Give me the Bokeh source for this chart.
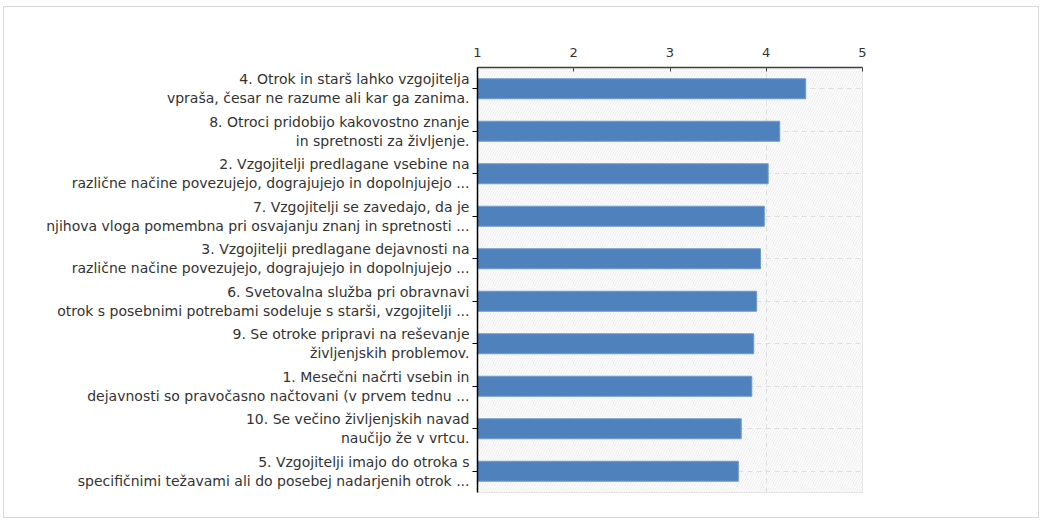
from bokeh.plotting import figure
from bokeh.models import Range1d, FactorRange, FixedTicker, BoxAnnotation
from bokeh.embed import file_html
from bokeh.resources import INLINE

labels = [
    "4. Otrok in starš lahko vzgojitelja\nvpraša, česar ne razume ali kar ga zanima.",
    "8. Otroci pridobijo kakovostno znanje\nin spretnosti za življenje.",
    "2. Vzgojitelji predlagane vsebine na\nrazlične načine povezujejo, dograjujejo in dopolnjujejo ...",
    "7. Vzgojitelji se zavedajo, da je\nnjihova vloga pomembna pri osvajanju znanj in spretnosti ...",
    "3. Vzgojitelji predlagane dejavnosti na\nrazlične načine povezujejo, dograjujejo in dopolnjujejo ...",
    "6. Svetovalna služba pri obravnavi\notrok s posebnimi potrebami sodeluje s starši, vzgojitelji ...",
    "9. Se otroke pripravi na reševanje\nživljenjskih problemov.",
    "1. Mesečni načrti vsebin in\ndejavnosti so pravočasno načtovani (v prvem tednu ...",
    "10. Se večino življenjskih navad\nnaučijo že v vrtcu.",
    "5. Vzgojitelji imajo do otroka s\nspecifičnimi težavami ali do posebej nadarjenih otrok ...",
]
values = [4.41, 4.14, 4.02, 3.98, 3.94, 3.90, 3.87, 3.85, 3.74, 3.71]
x_ticks = [1, 2, 3, 4, 5]

FONT = "DejaVu Sans"

p = figure(
    width=1036, height=512,
    x_range=Range1d(1, 5),
    y_range=FactorRange(factors=list(reversed(labels)), range_padding=0),
    output_backend="svg", toolbar_location=None,
    x_axis_location="above",
    min_border_left=473, min_border_right=178, min_border_top=60, min_border_bottom=27,
)
p.styles = {"border": "1px solid #d8d8d8", "margin": "6px 0 0 3px"}

# hatched plot background
bg = BoxAnnotation(fill_color="#fdfdfd", fill_alpha=1.0, line_color=None,
                   hatch_pattern="right_diagonal_line", hatch_color="#ededed",
                   hatch_scale=5, hatch_weight=1, level="image")
p.add_layout(bg)

p.hbar(y=labels, left=1, right=values, height=0.47,
       fill_color="#4f81bd", line_color="#6f9ad0", line_width=1)

p.outline_line_color = "#dcdcdc"

xa = p.xaxis[0]
xa.ticker = FixedTicker(ticks=x_ticks)
xa.axis_line_color = "#404040"
xa.axis_line_width = 1.5
xa.major_tick_in = 4
xa.major_tick_out = 0
xa.major_tick_line_color = "#404040"
xa.minor_tick_line_color = None
xa.major_label_text_font = FONT
xa.major_label_text_font_size = "13px"
xa.major_label_text_color = "#333333"
xa.major_label_standoff = 11

ya = p.yaxis[0]
ya.axis_line_color = "#000000"
ya.axis_line_width = 1.5
ya.major_tick_out = 5
ya.major_tick_in = 0
ya.major_tick_line_color = "#000000"
ya.major_label_text_font = FONT
ya.major_label_text_font_size = "14px"
ya.major_label_text_color = "#333333"
ya.major_label_text_line_height = 1.2
ya.major_label_standoff = 3

p.xgrid.ticker = FixedTicker(ticks=[4])
p.xgrid.grid_line_color = "#dedede"
p.xgrid.grid_line_dash = "5 4"
p.ygrid.grid_line_color = "#dedede"
p.ygrid.grid_line_dash = "5 4"

open("out.html", "w").write(file_html(p, INLINE))
